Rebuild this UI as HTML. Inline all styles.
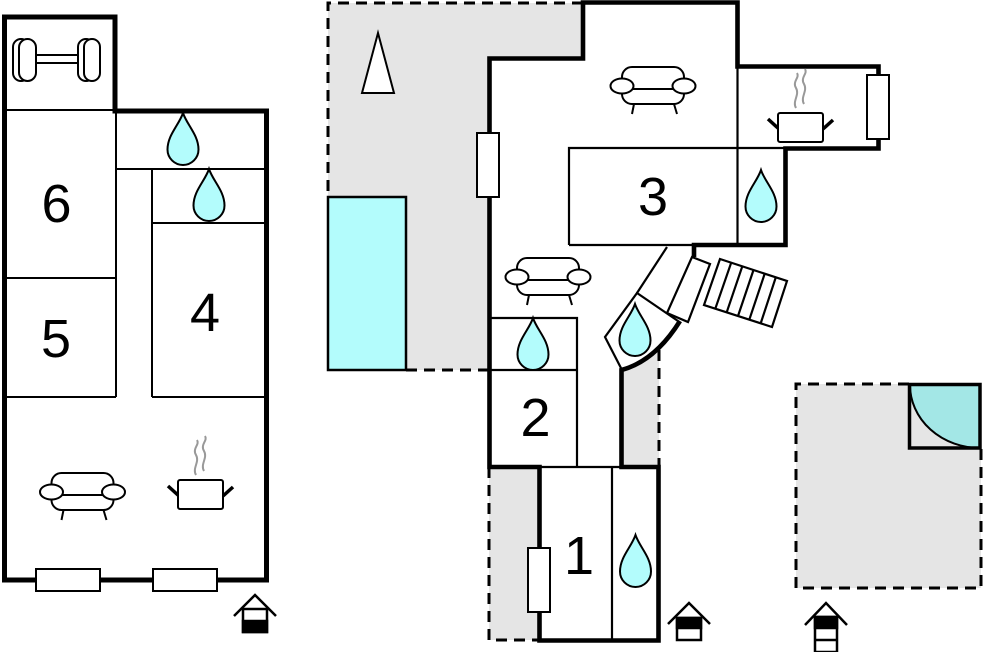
<!DOCTYPE html>
<html><head><meta charset="utf-8"><style>
html,body{margin:0;padding:0;background:#fff;}
svg{display:block;}
text{font-family:"Liberation Sans",Arial,sans-serif;font-size:54px;fill:#000;}
</style></head><body>
<svg width="983" height="652" viewBox="0 0 983 652" xmlns="http://www.w3.org/2000/svg">
<defs>
<path id="drop" d="M0,0 C4,12 15.5,22 15.5,36.5 A15.5,15.5 0 0 1 -15.5,36.5 C-15.5,22 -4,12 0,0 Z" fill="#b3fcfc" stroke="#000" stroke-width="2"/>
<g id="sofa" fill="#fff" stroke="#000" stroke-width="2">
 <line x1="24" y1="37" x2="22" y2="47"/>
 <line x1="64" y1="37" x2="67" y2="47"/>
 <rect x="12" y="0" width="62" height="37" rx="10"/>
 <line x1="20" y1="22" x2="66" y2="22"/>
 <ellipse cx="12" cy="19" rx="11.5" ry="7.5"/>
 <ellipse cx="74" cy="19" rx="11.5" ry="7.5"/>
</g>
<g id="pot">
 <path d="M28,37 C24,30 32,24 28,17 C24,10 32,7 29,2" fill="none" stroke="#999" stroke-width="2"/>
 <path d="M36,33 C32,26 40,20 36,13 C32,6 40,3 37,-2" fill="none" stroke="#999" stroke-width="2"/>
 <line x1="0" y1="48" x2="11" y2="58" stroke="#000" stroke-width="3.5"/>
 <line x1="55" y1="58" x2="65" y2="49" stroke="#000" stroke-width="3.5"/>
 <rect x="10" y="42" width="45" height="29" rx="2" fill="#fff" stroke="#000" stroke-width="2"/>
</g>
</defs>
<rect width="983" height="652" fill="#fff"/>

<!-- ===== LEFT BUILDING ===== -->
<g stroke="#000" stroke-width="2" fill="none">
 <line x1="4" y1="110" x2="115" y2="110"/>
 <line x1="115" y1="169" x2="266" y2="169"/>
 <line x1="116" y1="110" x2="116" y2="397"/>
 <line x1="4" y1="278" x2="116" y2="278"/>
 <line x1="4" y1="397" x2="116" y2="397"/>
 <line x1="152" y1="169" x2="152" y2="397"/>
 <line x1="152" y1="223" x2="266" y2="223"/>
 <line x1="152" y1="397" x2="266" y2="397"/>
</g>
<path d="M4.5,17 H115 V111 H266.5 V580 H4.5 Z" fill="none" stroke="#000" stroke-width="5"/>
<rect x="36" y="569" width="64" height="22" fill="#fff" stroke="#000" stroke-width="2"/>
<rect x="153" y="569" width="64" height="22" fill="#fff" stroke="#000" stroke-width="2"/>

<!-- dumbbell -->
<g fill="#fff" stroke="#000" stroke-width="2">
 <rect x="28" y="55" width="54" height="8" rx="4"/>
 <rect x="13" y="39" width="16" height="42" rx="8"/>
 <rect x="19" y="39" width="17" height="42" rx="8.5"/>
 <rect x="78" y="39" width="16" height="42" rx="8"/>
 <rect x="84" y="39" width="16" height="42" rx="8"/>
</g>

<use href="#drop" x="183" y="113"/>
<use href="#drop" x="209" y="169"/>
<use href="#sofa" x="39.5" y="473"/>
<use href="#pot" x="168" y="438"/>

<text x="56.5" y="222" text-anchor="middle">6</text>
<text x="56" y="357" text-anchor="middle">5</text>
<text x="205" y="331" text-anchor="middle">4</text>

<!-- entry icon 1 -->
<g stroke="#000" stroke-width="2.5">
 <polyline points="234,616 255,595 276,616" fill="none"/>
 <rect x="243" y="609" width="24" height="23" fill="#fff"/>
 <rect x="243" y="621" width="24" height="11" fill="#000"/>
</g>

<!-- ===== MIDDLE BUILDING ===== -->
<path d="M328,3 H583 V58 H489 V370 H328 Z" fill="#e5e5e5"/>
<rect x="489" y="467" width="51" height="173" fill="#e5e5e5"/>
<path d="M622,370 Q641.8,364.6 659,348 V467 H622 Z" fill="#e5e5e5"/>

<g fill="none" stroke="#000" stroke-width="3" stroke-dasharray="11,7">
 <path d="M583,3 H328 V197"/>
 <path d="M406,370 H489"/>
 <path d="M489,467 V640 H540"/>
 <path d="M659,350 V467"/>
</g>

<rect x="328" y="197" width="78" height="173" fill="#b3fcfc" stroke="#000" stroke-width="2.5"/>
<polygon points="378,33 362,93 394,93" fill="#fff" stroke="#000" stroke-width="2"/>

<g stroke="#000" stroke-width="2.2" fill="none">
 <path d="M569,245 V148 H785"/>
 <path d="M737.5,67 V245"/>
 <path d="M569,245 H694"/>
 <path d="M489,318 H577 V467"/>
 <path d="M489,370 H577"/>
 <path d="M540,467 H621"/>
 <path d="M612,467 V640"/>
 <path d="M667,247 L637,293"/>
 <path d="M678,321 L637,293 L605,337 L622,370"/>
</g>

<!-- door & stairs -->
<polygon points="692,257 710,264 688,322 667,313" fill="#fff" stroke="#000" stroke-width="2.2"/>
<g stroke="#000" stroke-width="2.2" fill="none">
 <polygon points="720,259 787,281 772,327 704,305" fill="#fff"/>
 <line x1="731.2" y1="262.7" x2="715.3" y2="308.7"/>
 <line x1="742.3" y1="266.3" x2="726.7" y2="312.3"/>
 <line x1="753.5" y1="270" x2="738" y2="316"/>
 <line x1="764.7" y1="273.7" x2="749.3" y2="319.7"/>
 <line x1="775.8" y1="277.3" x2="760.7" y2="323.3"/>
</g>

<path d="M694,257 V245 H785.5 V148.5 H878.5 V66.5 H737.5 V2.5 H583 V58.5 H489.5 V467 H539.5 V640.5 H658.5 V467 H621.5 V370 Q655,361 680,321" fill="none" stroke="#000" stroke-width="4.6"/>

<rect x="477" y="133" width="22" height="64" fill="#fff" stroke="#000" stroke-width="2"/>
<rect x="867" y="75" width="22" height="64" fill="#fff" stroke="#000" stroke-width="2"/>
<rect x="528" y="548" width="22" height="64" fill="#fff" stroke="#000" stroke-width="2"/>

<use href="#sofa" x="610" y="67"/>
<use href="#sofa" x="505" y="258"/>
<use href="#pot" x="768" y="71"/>

<use href="#drop" x="533" y="318"/>
<use href="#drop" x="635" y="304"/>
<use href="#drop" x="761" y="170"/>
<use href="#drop" x="635.5" y="535"/>

<text x="653" y="215" text-anchor="middle">3</text>
<text x="535.5" y="436" text-anchor="middle">2</text>
<text x="579" y="574" text-anchor="middle">1</text>

<!-- entry icon 2 -->
<g stroke="#000" stroke-width="2.5">
 <polyline points="668,624 689,603 710,624" fill="none"/>
 <rect x="677" y="618" width="24" height="22" fill="#fff"/>
 <rect x="677" y="618" width="24" height="10" fill="#000"/>
</g>

<!-- ===== RIGHT AREA ===== -->
<rect x="796" y="384" width="185" height="204" fill="#e5e5e5"/>
<g fill="none" stroke="#000" stroke-width="3" stroke-dasharray="11,7">
 <path d="M909,384 H796 V588 H981 V448"/>
</g>
<path d="M910,385 A70,63 0 0 0 980,448 L980,385 Z" fill="#a3e7e6"/>
<path d="M910,385 A70,63 0 0 0 980,448" fill="none" stroke="#000" stroke-width="2"/>
<rect x="909.5" y="384.5" width="70.5" height="63.5" fill="none" stroke="#000" stroke-width="3.5"/>

<!-- entry icon 3 -->
<g stroke="#000" stroke-width="2.5">
 <polyline points="805,625 826,603 847,625" fill="none"/>
 <rect x="815" y="617" width="22" height="35" fill="#fff"/>
 <rect x="815" y="617" width="22" height="11" fill="#000"/>
 <line x1="815" y1="640" x2="837" y2="640"/>
</g>
</svg>
</body></html>
